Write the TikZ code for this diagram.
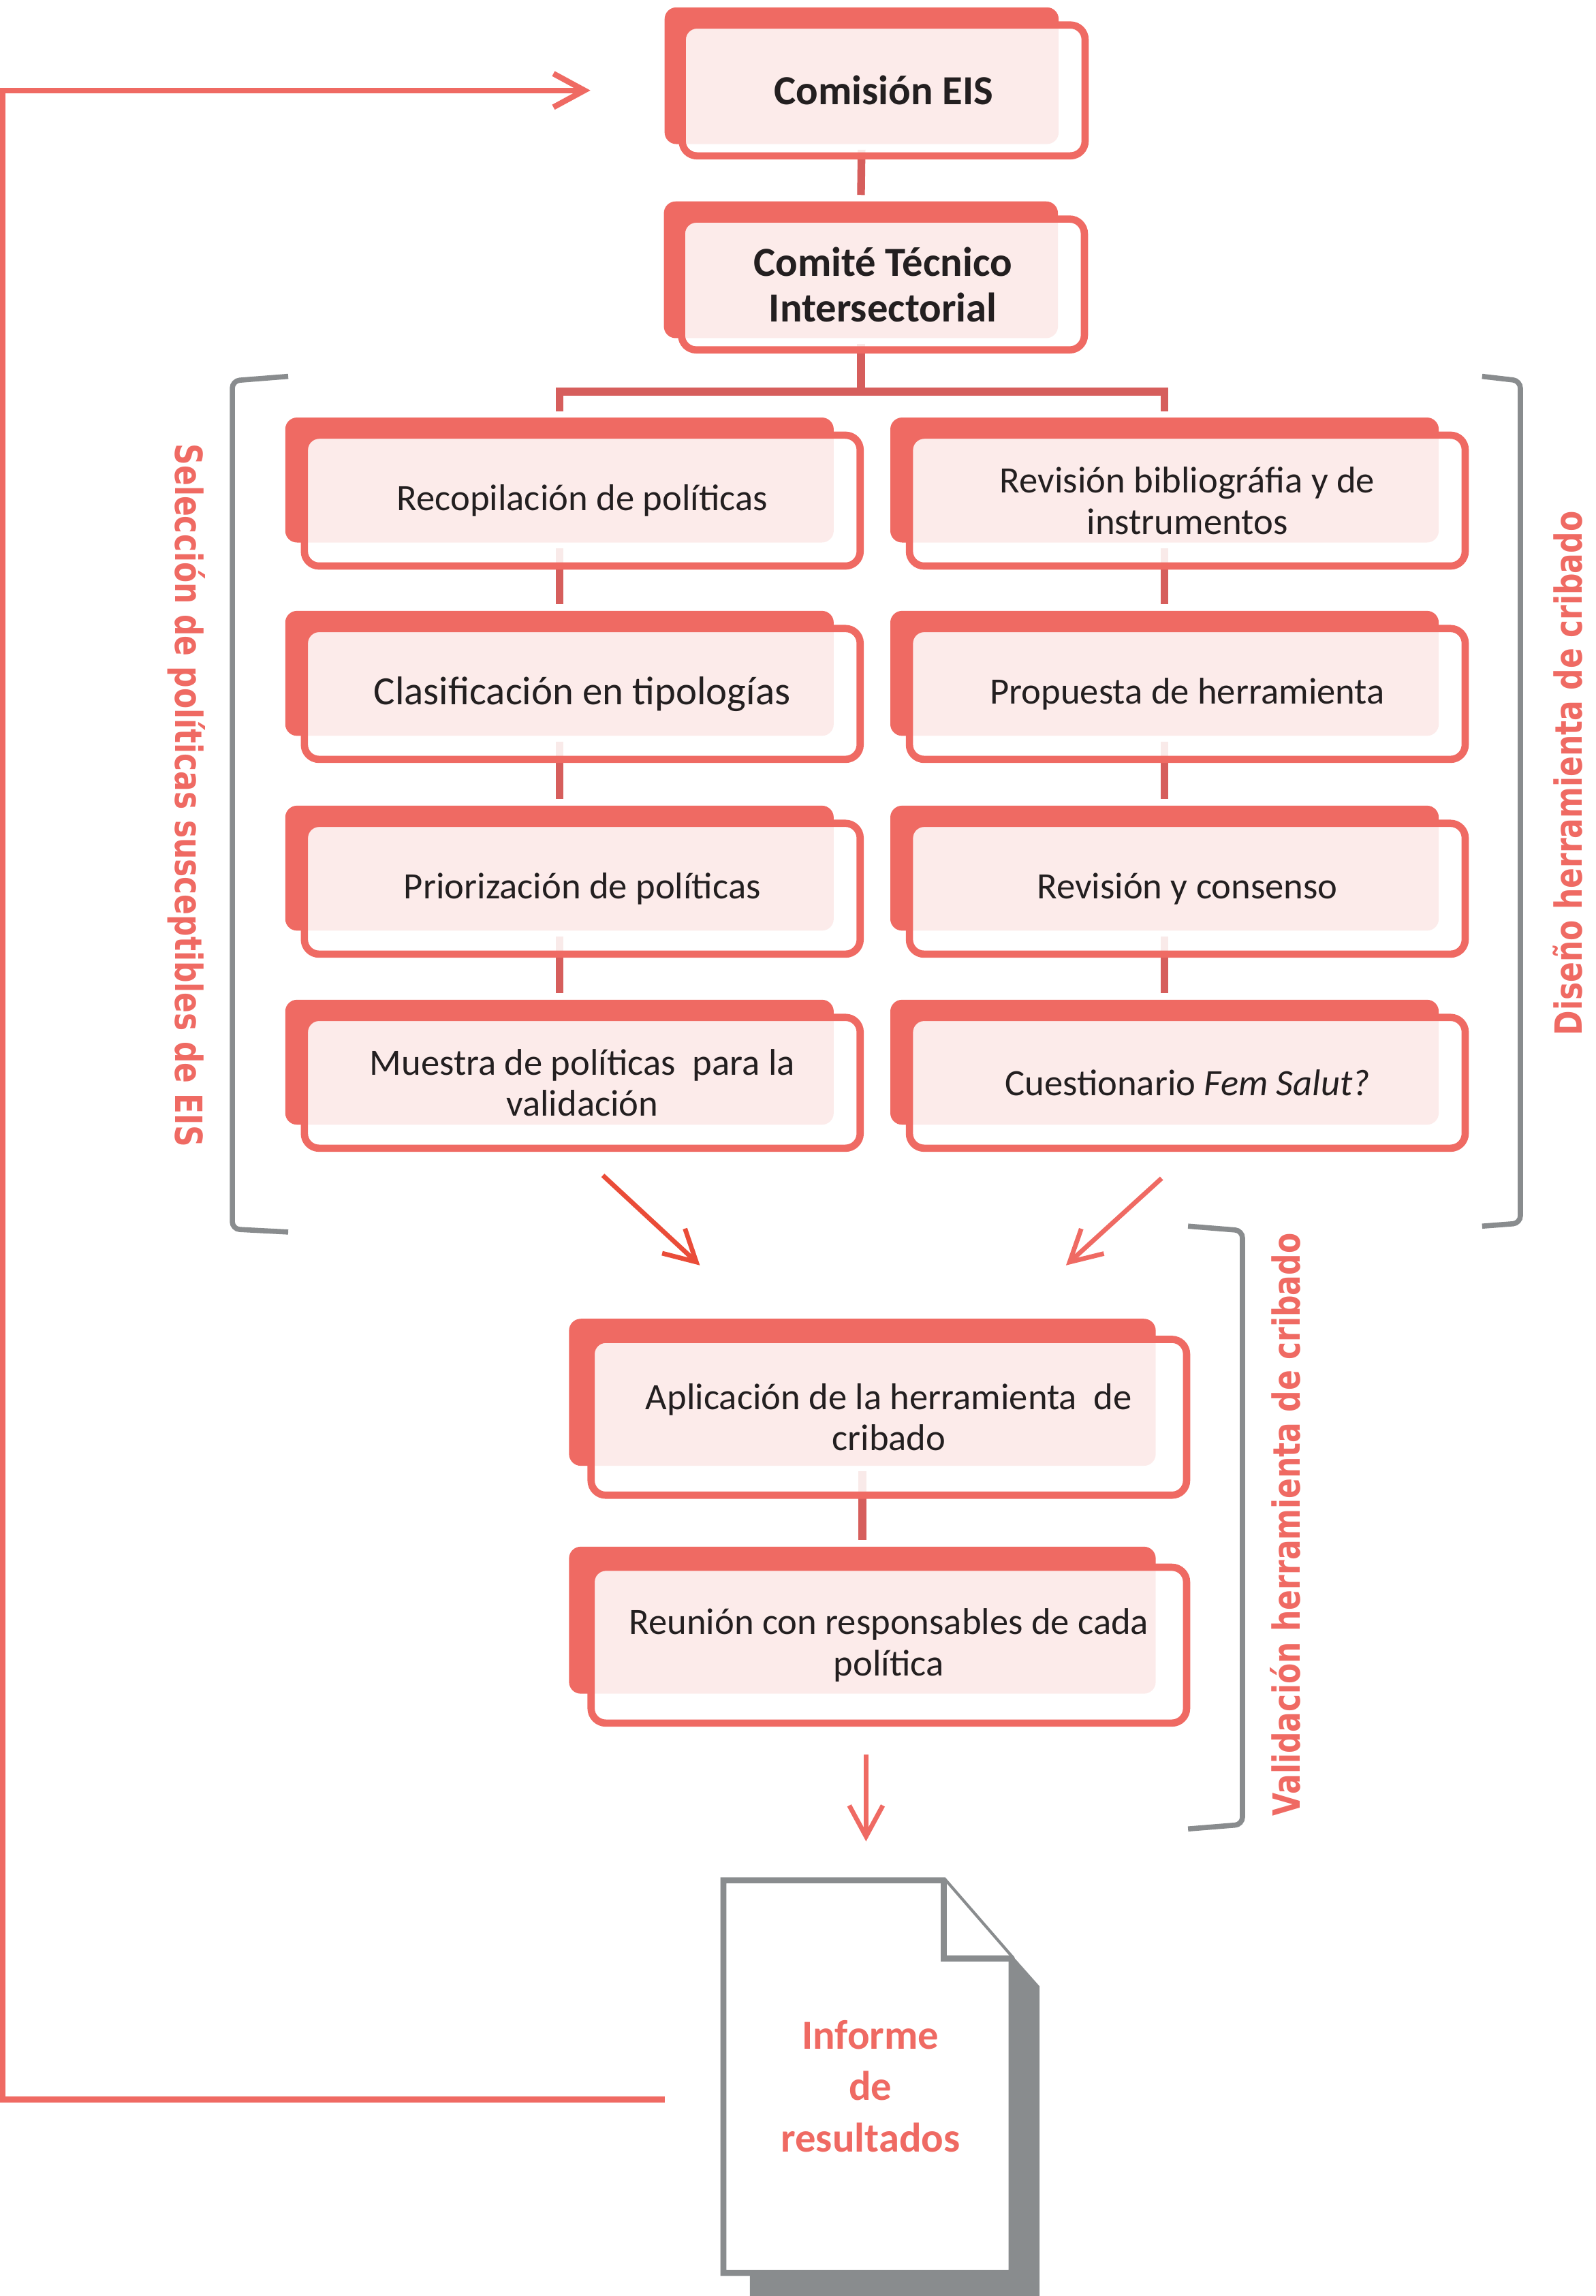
\documentclass[tikz,border=0pt]{standalone}
\usepackage{fontspec}
\setmainfont{Carlito}
\newfontfamily\sidefont{DejaVu Sans}[FakeStretch=0.8]
\usetikzlibrary{arrows.meta}
\pgfdeclarelayer{background}
\pgfsetlayers{background,main}

\definecolor{coral}{RGB}{239,106,99}
\definecolor{linkred}{RGB}{214,94,92}
\definecolor{arrowred}{RGB}{234,76,56}
\definecolor{bracegray}{RGB}{137,140,142}
\definecolor{inktext}{RGB}{35,31,32}

\tikzset{
  every node/.style={inner sep=0pt},
  boxback/.style={fill=coral, rounded corners=1.6mm},
  boxfront/.style={draw=coral, line width=2.8pt, fill=white, fill opacity=0.87,
    text opacity=1, rounded corners=2mm, text=inktext, align=center},
  topback/.style={boxback, minimum width=53.6mm, minimum height=18.6mm},
  topfront/.style={boxfront, minimum width=54.8mm, minimum height=17.8mm,
    font=\fontsize{16}{17.6}\selectfont\bfseries},
  colback/.style={boxback, minimum width=74.6mm, minimum height=17mm},
  colfront/.style={boxfront, minimum width=75.6mm, minimum height=17.8mm,
    font=\fontsize{14.4}{16}\selectfont},
  lowback/.style={boxback, minimum width=79.8mm, minimum height=20mm},
  lowfront/.style={boxfront, minimum width=81mm, minimum height=21.2mm,
    font=\fontsize{14.4}{16}\selectfont},
  link/.style={draw=linkred, line width=3pt, shorten <=2pt, shorten >=2.3pt},
  dart/.style={draw=coral, line width=1.8pt, -{Straight Barb[length=12pt,width=13pt]}},
  feedback/.style={draw=coral, line width=2.2pt, -{Straight Barb[length=12pt,width=13pt]}},
  brace/.style={draw=bracegray, line width=2pt, rounded corners=1mm},
  sidelabel/.style={text=coral, font=\sidefont\bfseries\fontsize{14.5}{15}\selectfont},
  paperline/.style={draw=bracegray, line width=2.3pt, fill=white},
  informe/.style={text=coral, align=center, font=\fontsize{16}{19.9}\selectfont\bfseries}
}

% #1 name, #2 kind, #3 front centre, #4 shift of the back, #5 text
\newcommand{\twinbox}[5]{%
  \coordinate (#1c) at #3;
  \node[#2back] (#1b) at ([shift={#4}]#1c) {};
  \node[#2front] (#1) at (#1c) {#5};}

\begin{document}
\begin{tikzpicture}[x=0.2mm, y=-0.2mm]
  \useasboundingbox (0,0) rectangle (1085,1561.7);

  % boxes
  \twinbox{ces}{top}{(601,61.5)}{(-15,-10)}{Comisión EIS}
  \twinbox{cti}{top}{(600.5,193.5)}{(-15,-10)}{Comité Técnico\\Intersectorial}
  \twinbox{rec}{col}{(396,340.5)}{(-15.5,-14)}{Recopilación de políticas}
  \twinbox{cla}{col}{(396,472)}{(-15.5,-14)}{\fontsize{15.5}{17}\selectfont Clasificación en tipologías}
  \twinbox{pri}{col}{(396,604.5)}{(-15.5,-14)}{Priorización de políticas}
  \twinbox{mue}{col}{(396,736.5)}{(-15.5,-14)}{Muestra de políticas \ para la\\validación}
  \twinbox{rev}{col}{(807.5,340.5)}{(-15.5,-14)}{Revisión bibliográfia y de\\instrumentos}
  \twinbox{pro}{col}{(807.5,472)}{(-15.5,-14)}{Propuesta de herramienta}
  \twinbox{rvc}{col}{(807.5,604.5)}{(-15.5,-14)}{Revisión y consenso}
  \twinbox{cue}{col}{(807.5,736.5)}{(-15.5,-14)}{Cuestionario \textit{Fem Salut?}}
  \twinbox{apl}{low}{(604.5,964)}{(-18,-17)}{Aplicación de la herramienta \ de\\cribado}
  \twinbox{reu}{low}{(604.5,1119)}{(-18,-17)}{Reunión con responsables de cada\\política}

  \begin{pgfonlayer}{background}
    \draw[link] (cesb.south) -- (ctib.north);
    \draw[link] (ctib.south) -- ++(0,36) -| (recb.north);
    \draw[link] (ctib.south) -- ++(0,36) -| (revb.north);
    \foreach \a/\b in {recb/clab,clab/prib,prib/mueb,revb/prob,prob/rvcb,rvcb/cueb,aplb/reub}
      \draw[link] (\a.south) -- (\b.north);
  \end{pgfonlayer}

  % brackets and their labels
  \draw[brace] (196,256) -- (158,259) -- (158,836) -- (196,838);
  \draw[brace] (1008,256) -- (1034,259) -- (1034,832) -- (1008,834);
  \draw[brace] (808,834) -- (845,837) -- (845,1241) -- (808,1244);
  \node[sidelabel, rotate=-90] (selec) at (127,541) {Selección de políticas susceptibles de EIS};
  \node[sidelabel, rotate=90] (diseno) at (1066,526) {Diseño herramienta de cribado};
  \node[sidelabel, rotate=90] (valid) at (874,1037) {Validación herramienta de cribado};

  % arrows
  \draw[dart, draw=arrowred] ([shift={(14,16)}]mue.south) -- ([shift={(-110.5,-36)}]aplb.north);
  \draw[dart] ([shift={(-17.5,18)}]cue.south) -- ([shift={(138.5,-36)}]aplb.north);
  \draw[dart] ([shift={(-15.5,19)}]reu.south) -- ++(0,59);

  % report
  \fill[bracegray] (510,1298) -- (660,1298) -- (707,1351) -- (707,1562) -- (510,1562) -- cycle;
  \draw[paperline] (492,1279) -- (642,1279) -- (688,1332) -- (688,1546) -- (492,1546) -- cycle;
  \draw[paperline] (642,1279) -- (642,1332) -- (688,1332);
  \node[informe] (informe) at (592,1419) {Informe\\de\\resultados};

  \coordinate (loopstart) at (452,1428);
  \draw[feedback] (loopstart) -- ++(-450,0) |- ([xshift=-12mm]ces.west);
\end{tikzpicture}
\end{document}
